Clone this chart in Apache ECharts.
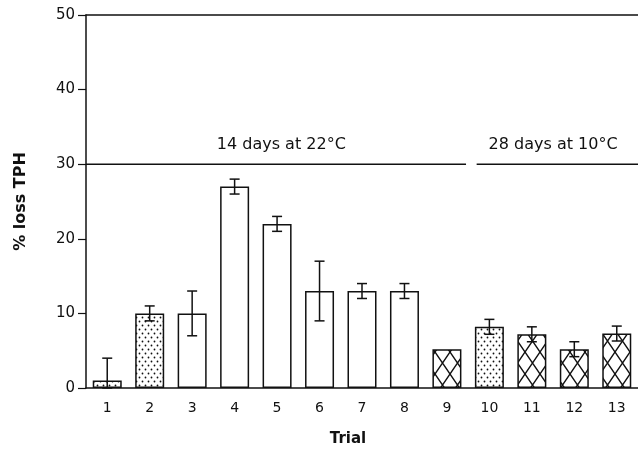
<!DOCTYPE html>
<html>
<head>
<meta charset="utf-8">
<script src="https://cdn.jsdelivr.net/npm/echarts@6/dist/echarts.min.js"></script>
<style>
  html, body { margin: 0; padding: 0; background: #fff; }
  #chart { width: 638px; height: 449px; }
</style>
</head>
<body>
<div id="chart"></div>
<script>
// data
const trials = ['1', '2', '3', '4', '5', '6', '7', '8', '9', '10', '11', '12', '13'];
const lossValues = [1, 10, 10, 27, 22, 13, 13, 13, 5.2, 8.2, 7.2, 5.2, 7.3];
const lossErr = [3, 1, 3, 1, 1, 4, 1, 1, 0, 1, 1, 1, 1];
// fill type per trial: dots / open / hatch
const fillType = ['dots', 'dots', 'open', 'open', 'open', 'open', 'open', 'open', 'hatch', 'dots', 'hatch', 'hatch', 'hatch'];
const yTicks = [0, 10, 20, 30, 40, 50];

// period lines at 30 (positions on 0..13 trial scale)
const periodA = [[0, 30], [8.95, 30]];
const periodB = [[9.2, 30], [13, 30]];
const periodLabels = ['14 days at 22°C', '28 days at 10°C'];

function makeDots() {
    const c = document.createElement('canvas');
    c.width = 6; c.height = 8;
    const ctx = c.getContext('2d');
    ctx.fillStyle = '#fff';
    ctx.fillRect(0, 0, 6, 8);
    ctx.fillStyle = '#111';
    ctx.beginPath(); ctx.arc(1.5, 1.5, 0.9, 0, Math.PI * 2); ctx.fill();
    ctx.beginPath(); ctx.arc(4.5, 5.5, 0.9, 0, Math.PI * 2); ctx.fill();
    return c;
}

function makeHatch() {
    const w = 15, h = 22;
    const c = document.createElement('canvas');
    c.width = w; c.height = h;
    const ctx = c.getContext('2d');
    ctx.fillStyle = '#fff';
    ctx.fillRect(0, 0, w, h);
    ctx.strokeStyle = '#111';
    ctx.lineWidth = 1.4;
    ctx.beginPath();
    ctx.moveTo(0, 0); ctx.lineTo(w, h);
    ctx.moveTo(w, 0); ctx.lineTo(0, h);
    ctx.stroke();
    return c;
}

const dotsImg = makeDots();
const hatchImg = makeHatch();

function fillFor(t) {
    if (t === 'dots') return { image: dotsImg, repeat: 'repeat' };
    if (t === 'hatch') return { image: hatchImg, repeat: 'repeat' };
    return '#fff';
}

const barData = lossValues.map((v, i) => ({
    value: v,
    itemStyle: { color: fillFor(fillType[i]) }
}));

const errData = lossValues.map((v, i) => [i, Math.max(0, v - lossErr[i]), v + lossErr[i], lossErr[i]]);

const chart = echarts.init(document.getElementById('chart'), null, { renderer: 'canvas' });

const font = 'DejaVu Sans, Liberation Sans, Arial, sans-serif';

chart.setOption({
    animation: false,
    backgroundColor: '#fff',
    grid: { left: 86, right: 0, top: 15, bottom: 61, outerBoundsMode: 'none' },
    xAxis: [
        {
            type: 'category',
            data: trials,
            name: 'Trial',
            nameLocation: 'middle',
            nameGap: 44,
            nameTextStyle: {
                fontFamily: font, fontSize: 15, fontWeight: 'bold', color: '#111',
                padding: [0, 28, 0, 0]
            },
            axisLine: { lineStyle: { color: '#111', width: 1.5 } },
            axisTick: { alignWithLabel: true, length: 6, lineStyle: { color: '#111', width: 1.2 } },
            axisLabel: { fontFamily: font, fontSize: 14, color: '#111', margin: 13 }
        },
        {
            type: 'value',
            position: 'top',
            min: 0,
            max: 13,
            axisLine: { show: true, onZero: false, lineStyle: { color: '#111', width: 1.5 } },
            axisTick: { show: false },
            axisLabel: { show: false },
            splitLine: { show: false }
        }
    ],
    yAxis: {
        type: 'value',
        min: 0,
        max: 50,
        interval: 10,
        name: '% loss TPH',
        nameLocation: 'middle',
        nameGap: 57,
        nameTextStyle: { fontFamily: font, fontSize: 16, fontWeight: 'bold', color: '#111' },
        axisLine: { show: true, lineStyle: { color: '#111', width: 1.5 } },
        axisTick: { show: true, length: 8, lineStyle: { color: '#111', width: 1.2 } },
        axisLabel: {
            fontFamily: font, fontSize: 15, color: '#111', margin: 11,
            formatter: v => (yTicks.indexOf(v) >= 0 ? String(v) : '')
        },
        splitLine: { show: false }
    },
    series: [
        {
            type: 'bar',
            data: barData,
            barWidth: 29,
            itemStyle: { borderColor: '#111', borderWidth: 1.5 },
            z: 2
        },
        {
            type: 'custom',
            data: errData,
            z: 3,
            renderItem: function (params, api) {
                if (api.value(3) === 0) return null;
                const x = api.value(0);
                const lo = api.coord([x, api.value(1)]);
                const hi = api.coord([x, api.value(2)]);
                const cap = 5;
                const st = { stroke: '#111', lineWidth: 1.5 };
                return {
                    type: 'group',
                    children: [
                        { type: 'line', shape: { x1: lo[0], y1: lo[1], x2: hi[0], y2: hi[1] }, style: st },
                        { type: 'line', shape: { x1: hi[0] - cap, y1: hi[1], x2: hi[0] + cap, y2: hi[1] }, style: st },
                        { type: 'line', shape: { x1: lo[0] - cap, y1: lo[1], x2: lo[0] + cap, y2: lo[1] }, style: st }
                    ]
                };
            }
        },
        {
            type: 'line',
            xAxisIndex: 1,
            data: periodA,
            symbol: 'none',
            lineStyle: { color: '#111', width: 1.5 },
            markPoint: {
                symbol: 'rect', symbolSize: 1,
                itemStyle: { color: 'transparent' },
                label: { show: true, formatter: periodLabels[0], fontFamily: font, fontSize: 16, color: '#111', offset: [0, -19] },
                data: [{ coord: [4.6, 30] }]
            }
        },
        {
            type: 'line',
            xAxisIndex: 1,
            data: periodB,
            symbol: 'none',
            lineStyle: { color: '#111', width: 1.5 },
            markPoint: {
                symbol: 'rect', symbolSize: 1,
                itemStyle: { color: 'transparent' },
                label: { show: true, formatter: periodLabels[1], fontFamily: font, fontSize: 16, color: '#111', offset: [0, -19] },
                data: [{ coord: [11.0, 30] }]
            }
        }
    ]
});
</script>
</body>
</html>
